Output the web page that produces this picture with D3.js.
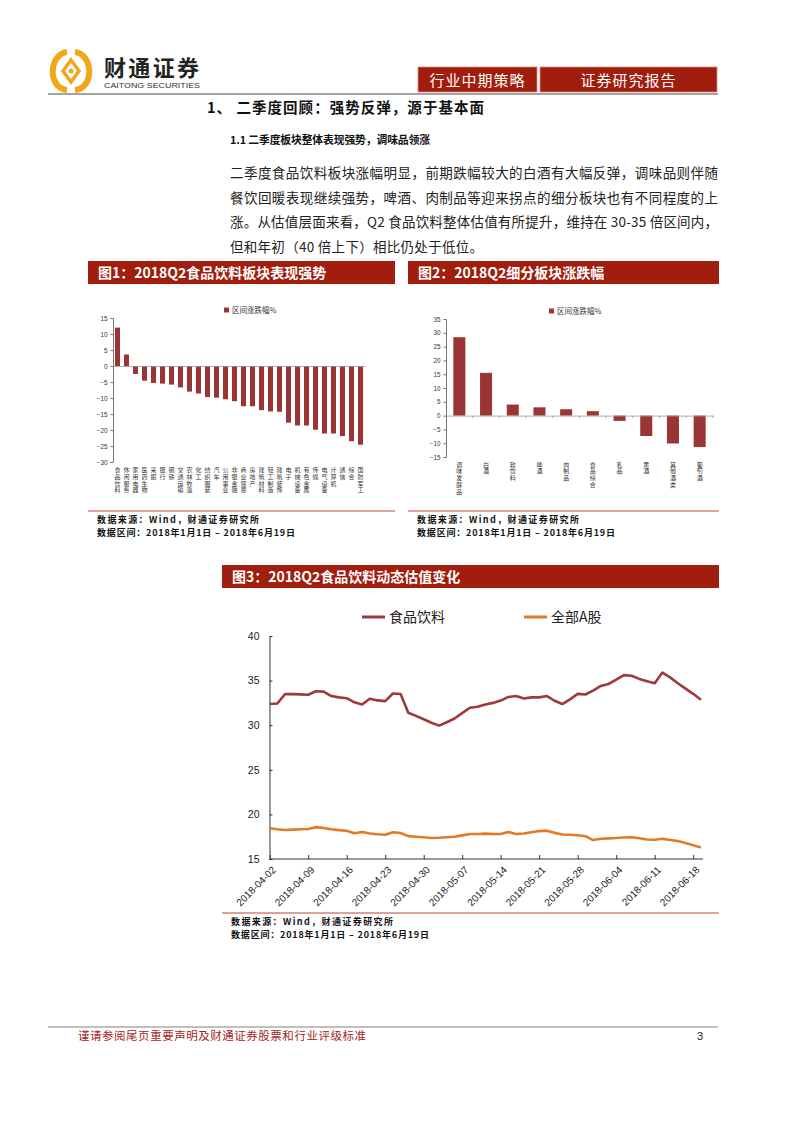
<!DOCTYPE html>
<html><head><meta charset="utf-8">
<script src="https://cdn.jsdelivr.net/npm/d3@7"></script>
<style>body{margin:0;background:#fff}svg{display:block}</style>
</head><body><svg id="page" width="800" height="1132"></svg>
<script>
// ---------- data ----------
const fig1Categories = ["食品饮料","休闲服务","家用电器","医药生物","采掘","银行","钢铁","交通运输","农林牧渔","化工","纺织服装","汽车","公用事业","非银金融","商业贸易","房地产","建筑材料","轻工制造","建筑装饰","电子","机械设备","有色金属","传媒","电气设备","计算机","通信","综合","国防军工"];
const fig1Values = [12.0,3.6,-2.5,-4.6,-5.3,-5.5,-5.8,-6.7,-8.0,-8.6,-9.7,-9.9,-10.4,-11.0,-12.6,-12.6,-13.8,-14.2,-14.3,-17.7,-18.6,-18.6,-19.9,-21.1,-21.1,-21.9,-23.5,-24.6];
const fig1Ticks = [15,10,5,0,-5,-10,-15,-20,-25,-30];

const fig2Categories = ["调味发酵品","白酒","软饮料","啤酒","肉制品","食品综合","乳品","黄酒","其他酒类","葡萄酒"];
const fig2Values = [28.4,15.5,4.0,3.0,2.3,1.6,-1.9,-7.4,-10.1,-11.4];
const fig2Ticks = [35,30,25,20,15,10,5,0,-5,-10,-15];

const fig3Dates = ["2018-04-02","2018-04-03","2018-04-04","2018-04-05","2018-04-06",
"2018-04-09","2018-04-10","2018-04-11","2018-04-12","2018-04-13",
"2018-04-16","2018-04-17","2018-04-18","2018-04-19","2018-04-20",
"2018-04-23","2018-04-24","2018-04-25","2018-04-26","2018-04-27",
"2018-04-30","2018-05-01","2018-05-02","2018-05-03","2018-05-04",
"2018-05-07","2018-05-08","2018-05-09","2018-05-10","2018-05-11",
"2018-05-14","2018-05-15","2018-05-16","2018-05-17","2018-05-18",
"2018-05-21","2018-05-22","2018-05-23","2018-05-24","2018-05-25",
"2018-05-28","2018-05-29","2018-05-30","2018-05-31","2018-06-01",
"2018-06-04","2018-06-05","2018-06-06","2018-06-07","2018-06-08",
"2018-06-11","2018-06-12","2018-06-13","2018-06-14","2018-06-15",
"2018-06-18","2018-06-19"];
const fig3Food = [32.37,32.44,33.5,33.48,33.46,
33.42,33.8,33.76,33.27,33.12,
33.03,32.56,32.32,32.97,32.78,
32.7,33.55,33.5,31.4,31.05,
30.67,30.28,29.95,30.33,30.75,
31.35,31.95,32.06,32.33,32.5,
32.76,33.17,33.27,33.0,33.12,
33.12,33.27,32.74,32.37,32.9,
33.51,33.44,33.87,34.4,34.62,
35.1,35.61,35.55,35.19,34.94,
34.7,35.9,35.36,34.7,34.1,
33.52,32.85];
const fig3AShare = [18.44,18.33,18.25,18.29,18.33,
18.36,18.57,18.48,18.33,18.24,
18.16,17.88,18.03,17.86,17.77,
17.71,18.0,17.91,17.56,17.49,
17.43,17.36,17.39,17.44,17.5,
17.65,17.8,17.81,17.85,17.8,
17.8,18.02,17.8,17.86,18.0,
18.13,18.18,17.93,17.75,17.72,
17.67,17.56,17.12,17.27,17.31,
17.35,17.41,17.43,17.32,17.19,
17.15,17.28,17.13,17.02,16.78,
16.54,16.28];
const fig3TickLabels = ["2018-04-02","2018-04-09","2018-04-16","2018-04-23","2018-04-30","2018-05-07","2018-05-14","2018-05-21","2018-05-28","2018-06-04","2018-06-11","2018-06-18"];
const fig3YTicks = [15,20,25,30,35,40];
const fig3Series = ["食品饮料","全部A股"];

// ---------- styles ----------
const CJK = "'Noto Sans CJK SC','Noto Sans',sans-serif";
const LAT = "'Liberation Sans',Arial,sans-serif";
const RED = "#a11d0d";
const BAR = "#9b3535";
const FOOD = "#a03a3a";
const ASH = "#e07a26";

const svg = d3.select("#page");
svg.append("rect").attr("width",800).attr("height",1132).attr("fill","#fff");

// ---------- header ----------
const logo = svg.append("g").attr("transform","translate(71,71)");
logo.append("path").attr("d","M-4,-19 C-22,-17 -24,17 -4,19").attr("fill","none").attr("stroke","#f2a71b").attr("stroke-width",6);
logo.append("path").attr("d","M4,-19 C22,-17 24,17 4,19").attr("fill","none").attr("stroke","#f2a71b").attr("stroke-width",6);
logo.append("path").attr("d","M0,-11 L8,0 L0,11 L-8,0 Z").attr("fill","none").attr("stroke","#f2a71b").attr("stroke-width",3.5);
logo.append("circle").attr("r",2.5).attr("fill","#f2a71b");
svg.append("text").attr("x",104).attr("y",76).attr("font-family",CJK).attr("font-weight",700)
  .attr("font-size",22).attr("fill","#222").attr("textLength",95).attr("lengthAdjust","spacing").text("财通证券");
svg.append("text").attr("x",104).attr("y",88).attr("font-family",LAT)
  .attr("font-size",8).attr("fill","#333").attr("textLength",96).attr("lengthAdjust","spacingAndGlyphs").text("CAITONG SECURITIES");

const hdr = [{t:"行业中期策略",x:418,w:119},{t:"证券研究报告",x:540,w:177}];
hdr.forEach(h=>{
  svg.append("rect").attr("x",h.x).attr("y",67).attr("width",h.w).attr("height",25).attr("fill",RED)
    .attr("stroke","#d9907f").attr("stroke-width",0.8);
  svg.append("text").attr("x",h.x+h.w/2).attr("y",85.5).attr("text-anchor","middle")
    .attr("font-family",CJK).attr("font-size",15).attr("fill","#fff").attr("letter-spacing",1).text(h.t);
});
svg.append("line").attr("x1",48).attr("x2",718).attr("y1",94).attr("y2",94).attr("stroke","#a3a3a3").attr("stroke-width",2);

// ---------- body text ----------
svg.append("text").attr("x",207).attr("y",113).attr("font-family",CJK).attr("font-weight",700)
  .attr("font-size",14.5).attr("fill","#111").attr("textLength",277).attr("lengthAdjust","spacing").text("1、 二季度回顾：强势反弹，源于基本面");
svg.append("text").attr("x",230).attr("y",144).attr("font-family",CJK).attr("font-weight",700)
  .attr("font-size",10.8).attr("fill","#111").attr("textLength",200).attr("lengthAdjust","spacing").text("1.1  二季度板块整体表现强势，调味品领涨");
const para = [
  {t:"二季度食品饮料板块涨幅明显，前期跌幅较大的白酒有大幅反弹，调味品则伴随",w:488},
  {t:"餐饮回暖表现继续强势，啤酒、肉制品等迎来拐点的细分板块也有不同程度的上",w:488},
  {t:"涨。从估值层面来看，Q2 食品饮料整体估值有所提升，维持在 30-35 倍区间内，",w:488},
  {t:"但和年初（40 倍上下）相比仍处于低位。",w:253}
];
para.forEach((p,i)=>{
  svg.append("text").attr("x",230).attr("y",178+i*24.5).attr("font-family",CJK)
    .attr("font-size",13.5).attr("fill","#222").attr("textLength",p.w).attr("lengthAdjust","spacing").text(p.t);
});

// ---------- figure title bars and sources ----------
function titleBar(x,w,y,txt){
  svg.append("rect").attr("x",x).attr("y",y).attr("width",w).attr("height",23).attr("fill",RED);
  svg.append("text").attr("x",x+10).attr("y",y+17).attr("font-family",CJK).attr("font-weight",700)
    .attr("font-size",14).attr("fill","#fff").text(txt);
}
function source(x,x2,y){
  svg.append("line").attr("x1",x).attr("x2",x2).attr("y1",y).attr("y2",y).attr("stroke","#b5473a").attr("stroke-width",1);
  svg.append("text").attr("x",x+9).attr("y",y+11.5).attr("font-family",CJK).attr("font-weight",700)
    .attr("font-size",9).attr("fill","#111").attr("textLength",162).attr("lengthAdjust","spacing").text("数据来源：Wind，财通证券研究所");
  svg.append("text").attr("x",x+9).attr("y",y+25).attr("font-family",CJK).attr("font-weight",700)
    .attr("font-size",9).attr("fill","#111").attr("textLength",198).attr("lengthAdjust","spacing").text("数据区间：2018年1月1日 – 2018年6月19日");
}
titleBar(88,307,261,"图1：2018Q2食品饮料板块表现强势");
titleBar(408,311,261,"图2：2018Q2细分板块涨跌幅");
titleBar(222,497,565,"图3：2018Q2食品饮料动态估值变化");
source(88,395,511);
source(408,719,511);
source(222,719,913);

// ---------- generic bar chart ----------
function barChart(cfg){
  const g = svg.append("g");
  const x = d3.scaleBand().domain(cfg.cats).range([cfg.x0,cfg.x1]).paddingInner(cfg.pad).paddingOuter(cfg.pad/2);
  const y = d3.scaleLinear().domain(cfg.dom).range([cfg.yb,cfg.yt]);
  g.selectAll("rect.bar").data(cfg.vals).join("rect").attr("class","bar")
    .attr("x",(d,i)=>x(cfg.cats[i])).attr("width",x.bandwidth())
    .attr("y",d=>y(Math.max(0,d))).attr("height",d=>Math.abs(y(d)-y(0)))
    .attr("fill",BAR);
  const ya = g.append("g").attr("transform",`translate(${cfg.x0},0)`)
    .call(d3.axisLeft(y).tickValues(cfg.ticks).tickSize(2.5).tickPadding(3).tickFormat(d3.format("d")));
  ya.select(".domain").attr("stroke","#777");
  ya.selectAll(".tick line").attr("stroke","#777");
  ya.selectAll("text").attr("font-family",LAT).attr("font-size",6.3).attr("fill","#333");
  const xa = g.append("g").attr("transform",`translate(0,${y(0)})`)
    .call(d3.axisBottom(x).tickSize(0).tickFormat(""));
  xa.select(".domain").attr("stroke","#999").attr("stroke-width",0.8);
  if (cfg.bTicks){
    g.selectAll("line.bt").data(cfg.cats).join("line").attr("class","bt")
      .attr("x1",d=>x(d)+x.step()*(1-cfg.pad/2)).attr("x2",d=>x(d)+x.step()*(1-cfg.pad/2))
      .attr("y1",y(0)).attr("y2",y(0)+2.5).attr("stroke","#999").attr("stroke-width",0.8);
  }
  // vertical category labels (one text each, vertical writing mode)
  g.selectAll("text.cat").data(cfg.cats).join("text").attr("class","cat")
    .attr("x",d=>x(d)+x.bandwidth()/2).attr("y",cfg.labY)
    .style("writing-mode","vertical-rl").attr("letter-spacing",0.7)
    .attr("font-family",CJK).attr("font-size",6).attr("fill","#333").text(d=>d);
  // legend
  g.append("rect").attr("x",cfg.legX).attr("y",cfg.legY).attr("width",5).attr("height",5).attr("fill",BAR);
  g.append("text").attr("x",cfg.legX+8).attr("y",cfg.legY+5).attr("font-family",CJK).attr("font-size",7.5)
    .attr("fill","#333").text("区间涨跌幅%");
}
barChart({cats:fig1Categories,vals:fig1Values,ticks:fig1Ticks,dom:[-30,15],x0:113,x1:365,yb:462,yt:318,pad:0.44,labY:467,legX:224,legY:307.5,bTicks:false});
barChart({cats:fig2Categories,vals:fig2Values,ticks:fig2Ticks,dom:[-15,35],x0:446,x1:713,yb:457,yt:319,pad:0.55,labY:461.5,legX:549,legY:308.5,bTicks:true});

// ---------- line chart ----------
(function(){
  const g = svg.append("g");
  const x = d3.scalePoint().domain(fig3Dates).range([269.7,269.7+56*7.7]);
  const y = d3.scaleLinear().domain([15,40]).range([859,636]);
  const ya = g.append("g").attr("transform","translate(269.5,0)")
    .call(d3.axisLeft(y).tickValues(fig3YTicks).tickSizeInner(-3).tickSizeOuter(0).tickPadding(10));
  ya.select(".domain").attr("stroke","#333").attr("stroke-width",1);
  ya.selectAll(".tick line").attr("stroke","#333");
  ya.selectAll("text").attr("font-family",LAT).attr("font-size",10.5).attr("fill","#222");
  const xa = g.append("g").attr("transform","translate(0,859)")
    .call(d3.axisBottom(x).tickValues(fig3TickLabels).tickSizeInner(-4).tickSizeOuter(0));
  xa.select(".domain").attr("d","M269.5,0H703").attr("stroke","#333").attr("stroke-width",1);
  xa.selectAll(".tick line").attr("stroke","#333");
  xa.selectAll("text").attr("font-family",LAT).attr("font-size",10).attr("fill","#222")
    .attr("text-anchor","end").attr("y",0).attr("dy","0.35em").attr("transform","translate(4,9) rotate(-45)");
  const line = d3.line().x((d,i)=>x(fig3Dates[i])).y(d=>y(d));
  [[fig3AShare,ASH],[fig3Food,FOOD]].forEach(([vals,col])=>{
    g.append("path").attr("d",line(vals)).attr("fill","none").attr("stroke",col)
      .attr("stroke-width",2.6).attr("stroke-linejoin","round");
  });
  const leg = [{t:fig3Series[0],c:FOOD,x:362},{t:fig3Series[1],c:ASH,x:524}];
  leg.forEach(l=>{
    g.append("line").attr("x1",l.x).attr("x2",l.x+23).attr("y1",617).attr("y2",617).attr("stroke",l.c).attr("stroke-width",3);
    g.append("text").attr("x",l.x+27).attr("y",622).attr("font-family",CJK).attr("font-size",14).attr("fill","#222").text(l.t);
  });
})();

// ---------- footer ----------
svg.append("line").attr("x1",48).attr("x2",718).attr("y1",1027).attr("y2",1027).attr("stroke","#aaa").attr("stroke-width",1.5);
svg.append("text").attr("x",78).attr("y",1040).attr("font-family",CJK).attr("font-size",11.5).attr("fill","#a3261a")
  .attr("textLength",288).attr("lengthAdjust","spacing").text("谨请参阅尾页重要声明及财通证券股票和行业评级标准");
svg.append("text").attr("x",697).attr("y",1040).attr("font-family",LAT).attr("font-size",11).attr("fill","#222").text("3");
</script></body></html>
